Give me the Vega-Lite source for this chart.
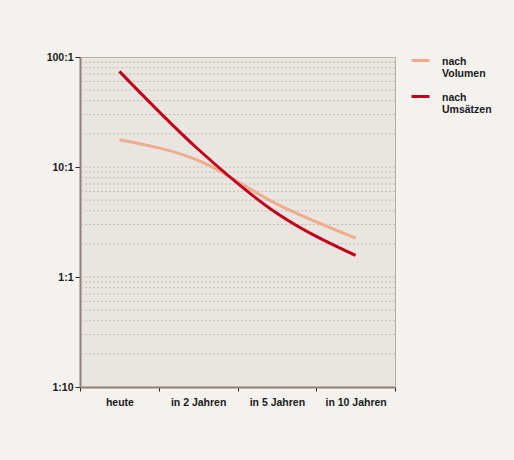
{
  "$schema": "https://vega.github.io/schema/vega-lite/v6.json",
  "width": 315,
  "height": 330,
  "autosize": {"type": "none"},
  "padding": {"left": 80, "top": 57, "right": 119, "bottom": 73},
  "background": "#f4f1ee",
  "config": {
    "font": "Liberation Sans",
    "view": {"fill": "#e9e5e0", "stroke": "#b8afa6", "strokeWidth": 1},
    "axis": {
      "domainColor": "#8c8279",
      "domainWidth": 2,
      "tickColor": "#2a2624",
      "tickWidth": 1,
      "labelFont": "Liberation Sans",
      "labelFontWeight": "bold",
      "labelFontSize": 10.5,
      "labelColor": "#1a1a1a",
      "grid": false,
      "title": null
    }
  },
  "datasets": {
    "grid": [
      {"v": 0.2}, {"v": 0.3}, {"v": 0.4}, {"v": 0.5}, {"v": 0.6}, {"v": 0.7}, {"v": 0.8}, {"v": 0.9},
      {"v": 1}, {"v": 2}, {"v": 3}, {"v": 4}, {"v": 5}, {"v": 6}, {"v": 7}, {"v": 8}, {"v": 9},
      {"v": 10}, {"v": 20}, {"v": 30}, {"v": 40}, {"v": 50}, {"v": 60}, {"v": 70}, {"v": 80}, {"v": 90}
    ],
    "series": [
      {"zeit": "heute", "reihe": "nach Volumen", "verhaeltnis": 17.7},
      {"zeit": "in 2 Jahren", "reihe": "nach Volumen", "verhaeltnis": 11.5},
      {"zeit": "in 5 Jahren", "reihe": "nach Volumen", "verhaeltnis": 4.6},
      {"zeit": "in 10 Jahren", "reihe": "nach Volumen", "verhaeltnis": 2.26},
      {"zeit": "heute", "reihe": "nach Umsätzen", "verhaeltnis": 74},
      {"zeit": "in 2 Jahren", "reihe": "nach Umsätzen", "verhaeltnis": 14.5},
      {"zeit": "in 5 Jahren", "reihe": "nach Umsätzen", "verhaeltnis": 3.8},
      {"zeit": "in 10 Jahren", "reihe": "nach Umsätzen", "verhaeltnis": 1.57}
    ]
  },
  "layer": [
    {
      "data": {"name": "grid"},
      "mark": {"type": "rule", "color": "#c6bbaf", "strokeDash": [2, 2], "strokeWidth": 1},
      "encoding": {
        "y": {
          "field": "v",
          "type": "quantitative",
          "scale": {"type": "log", "domain": [0.1, 100], "nice": false},
          "axis": {
            "values": [0.1, 1, 10, 100],
            "tickSize": 5,
            "labelPadding": 2,
            "labelExpr": "datum.value >= 1 ? format(datum.value, 'd') + ':1' : '1:' + format(1 / datum.value, 'd')"
          }
        }
      }
    },
    {
      "data": {"name": "series"},
      "mark": {"type": "line", "interpolate": "monotone", "strokeWidth": 3, "strokeCap": "butt"},
      "encoding": {
        "x": {
          "field": "zeit",
          "type": "nominal",
          "sort": ["heute", "in 2 Jahren", "in 5 Jahren", "in 10 Jahren"],
          "bandPosition": 0.5,
          "scale": {"type": "band", "paddingInner": 0, "paddingOuter": 0},
          "axis": {"labelAngle": 0, "tickBand": "extent", "tickSize": 4, "labelPadding": 6}
        },
        "y": {
          "field": "verhaeltnis",
          "type": "quantitative",
          "scale": {"type": "log", "domain": [0.1, 100], "nice": false},
          "axis": {
            "values": [0.1, 1, 10, 100],
            "tickSize": 5,
            "labelPadding": 2,
            "labelExpr": "datum.value >= 1 ? format(datum.value, 'd') + ':1' : '1:' + format(1 / datum.value, 'd')"
          }
        },
        "color": {
          "field": "reihe",
          "type": "nominal",
          "scale": {"domain": ["nach Volumen", "nach Umsätzen"], "range": ["#eeae8e", "#c0001b"]},
          "legend": {
            "title": null,
            "orient": "none",
            "legendX": 330,
            "legendY": -7,
            "symbolType": "stroke",
            "symbolSize": 324,
            "symbolStrokeWidth": 3,
            "labelFont": "Liberation Sans",
            "labelFontWeight": "bold",
            "labelFontSize": 10.5,
            "labelColor": "#1a1a1a",
            "labelBaseline": "top",
            "labelOffset": 11,
            "rowPadding": 6,
            "labelExpr": "split(datum.label, ' ')",
            "encoding": {"labels": {"dy": {"value": -4}}}
          }
        }
      }
    }
  ]
}
